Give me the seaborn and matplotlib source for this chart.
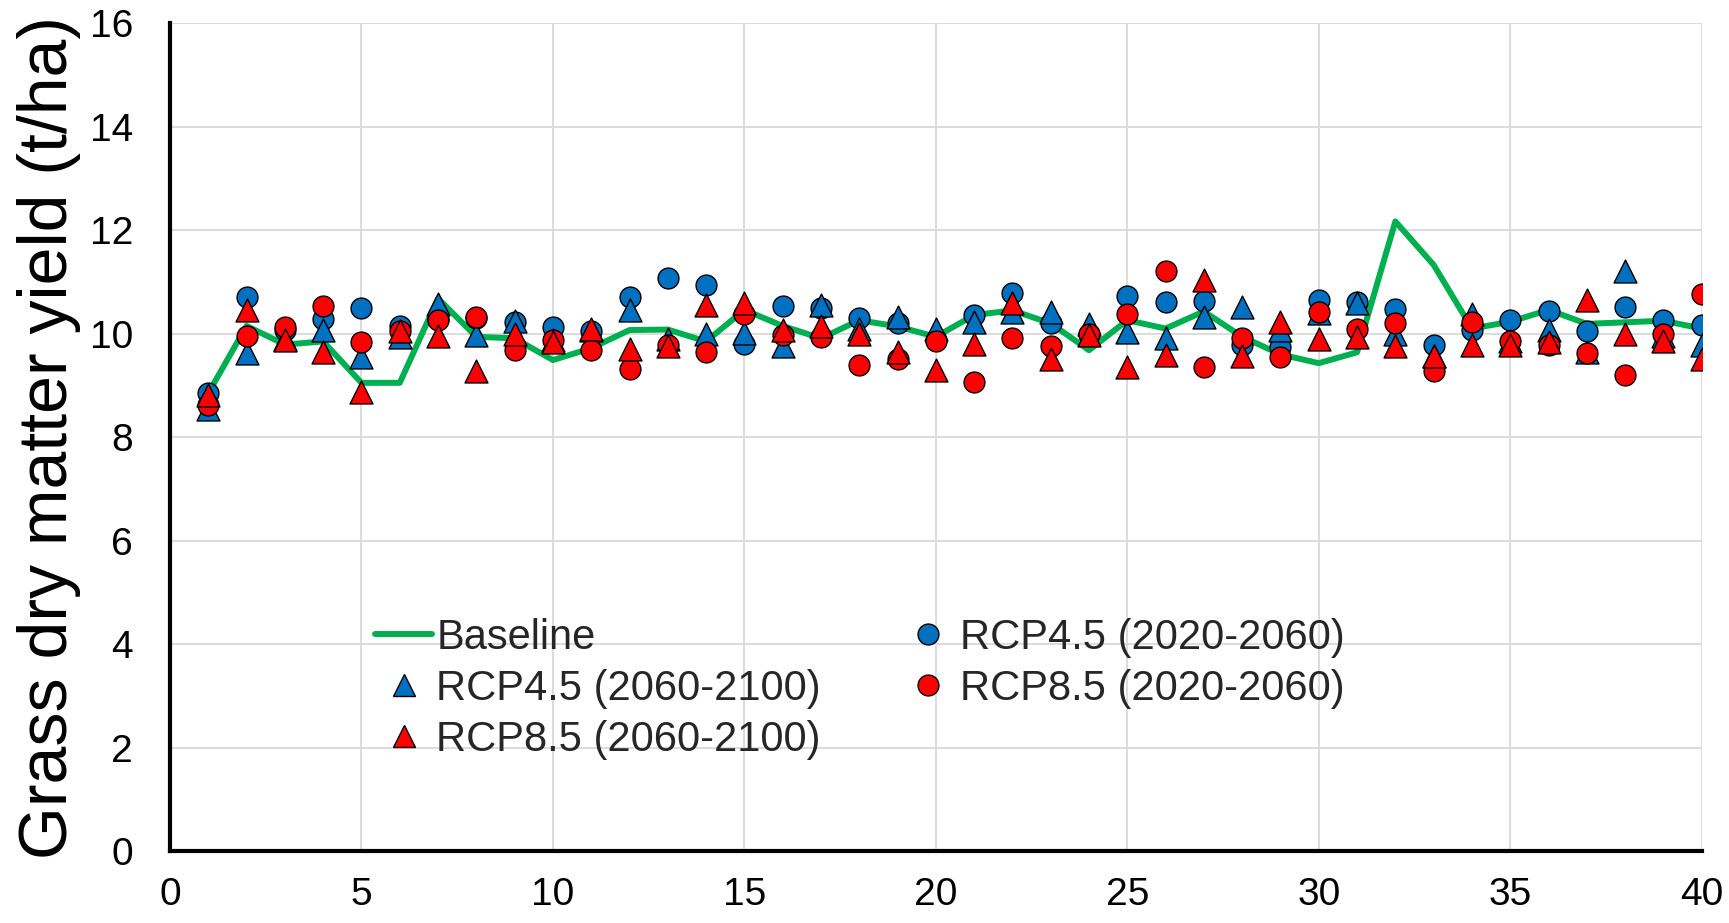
import matplotlib
matplotlib.use("Agg")
import matplotlib.pyplot as plt
import seaborn as sns
from matplotlib.lines import Line2D

years = list(range(1, 41))

baseline = [8.85, 10.15, 9.79, 9.85, 9.05, 9.05, 10.68, 9.94, 9.91, 9.49,
            9.72, 10.07, 10.08, 9.85, 10.46, 10.15, 9.91, 10.26, 10.14, 9.94,
            10.36, 10.45, 10.20, 9.68, 10.26, 10.10, 10.43, 9.94, 9.60, 9.43,
            9.64, 12.17, 11.33, 10.10, 10.23, 10.46, 10.19, 10.22, 10.25, 10.10]

rcp45_2020 = [8.85, 10.70, 10.07, 10.28, 10.50, 10.14, 10.28, 10.30, 10.22, 10.12,
              10.05, 10.70, 11.07, 10.94, 9.81, 10.54, 10.49, 10.30, 10.20, 9.87,
              10.37, 10.78, 10.20, 10.00, 10.73, 10.62, 10.64, 9.78, 9.75, 10.65,
              10.62, 10.48, 9.78, 10.07, 10.27, 10.43, 10.05, 10.52, 10.27, 10.17]

rcp45_2060 = [8.55, 9.62, 9.90, 10.08, 9.55, 9.94, 10.58, 9.98, 10.24, 9.88,
              10.08, 10.45, 9.90, 10.00, 10.02, 9.77, 10.55, 10.10, 10.33, 10.10,
              10.22, 10.42, 10.42, 10.18, 10.03, 9.91, 10.33, 10.52, 10.08, 10.40,
              10.59, 10.00, 9.57, 10.38, 9.85, 10.08, 9.65, 11.22, 9.95, 9.79]

rcp85_2020 = [8.62, 9.95, 10.12, 10.54, 9.84, 10.06, 10.26, 10.32, 9.68, 9.88,
              9.68, 9.32, 9.78, 9.64, 10.39, 9.97, 9.94, 9.39, 9.52, 9.85,
              9.07, 9.91, 9.77, 10.00, 10.38, 11.22, 9.36, 9.91, 9.55, 10.41,
              10.09, 10.20, 9.27, 10.22, 9.86, 9.78, 9.62, 9.20, 9.99, 10.77]

rcp85_2060 = [8.81, 10.46, 9.88, 9.64, 8.87, 10.06, 9.96, 9.28, 10.00, 9.83,
              10.10, 9.71, 9.77, 10.55, 10.60, 10.08, 10.14, 10.00, 9.64, 9.29,
              9.80, 10.60, 9.52, 9.97, 9.35, 9.59, 11.04, 9.57, 10.23, 9.90,
              9.93, 9.77, 9.56, 9.78, 9.79, 9.83, 10.65, 9.99, 9.86, 9.51]

labels = ["Baseline", "RCP4.5 (2020-2060)", "RCP4.5 (2060-2100)",
          "RCP8.5 (2020-2060)", "RCP8.5 (2060-2100)"]
x_ticks = [0, 5, 10, 15, 20, 25, 30, 35, 40]
y_ticks = [0, 2, 4, 6, 8, 10, 12, 14, 16]

GREEN = "#00B050"
BLUE = "#0070C0"
RED = "#FF0000"

sns.set_theme(style="white")
plt.rcParams["font.family"] = ["Liberation Sans", "DejaVu Sans"]

W, H = 1729, 923
fig = plt.figure(figsize=(W / 100, H / 100), dpi=100)
ax = fig.add_axes([170 / W, 1 - 851 / H, (1701.7 - 170) / W, (851 - 23.3) / H])

sns.lineplot(x=years, y=baseline, color=GREEN, linewidth=4.3, label=labels[0],
             ax=ax, zorder=2, legend=False)
circ_s = 15 ** 2
tri_s = 16.5 ** 2
sns.scatterplot(x=years, y=rcp45_2020, marker="o", s=circ_s, color=BLUE,
                edgecolor="black", linewidth=1.0, label=labels[1], ax=ax, zorder=3, legend=False)
sns.scatterplot(x=years, y=rcp45_2060, marker="^", s=tri_s, color=BLUE,
                edgecolor="black", linewidth=1.0, label=labels[2], ax=ax, zorder=3, legend=False)
sns.scatterplot(x=years, y=rcp85_2020, marker="o", s=circ_s, color=RED,
                edgecolor="black", linewidth=1.0, label=labels[3], ax=ax, zorder=3, legend=False)
sns.scatterplot(x=years, y=rcp85_2060, marker="^", s=tri_s, color=RED,
                edgecolor="black", linewidth=1.0, label=labels[4], ax=ax, zorder=3, legend=False)

ax.set_xlim(0, 40)
ax.set_ylim(0, 16)
ax.set_xticks(x_ticks)
ax.set_yticks(y_ticks)
ax.set_xticklabels([str(v) for v in x_ticks])
ax.set_yticklabels([str(v) for v in y_ticks])
ax.set_axisbelow(True)
ax.grid(True, color="#D9D9D9", linewidth=1.3)

for side in ["top", "right"]:
    ax.spines[side].set_visible(False)
for side in ["left", "bottom"]:
    ax.spines[side].set_color("black")
    ax.spines[side].set_linewidth(3.0)

ax.tick_params(axis="both", which="major", direction="out", length=8.5, width=3.0,
               color="black", labelsize=28, labelcolor="black")
ax.tick_params(axis="y", pad=18)
ax.tick_params(axis="x", pad=10)

ax.set_xlabel("")
ax.set_ylabel("Grass dry matter yield (t/ha)", fontsize=49, color="black")
ax.yaxis.set_label_coords(-0.058, 0.5)

# legend in Excel order (row-major in two columns)
h_base = Line2D([], [], color=GREEN, linewidth=4.3)
h45c = Line2D([], [], linestyle="none", marker="o", markersize=15, markerfacecolor=BLUE,
              markeredgecolor="black", markeredgewidth=1.0)
h45t = Line2D([], [], linestyle="none", marker="^", markersize=16.5, markerfacecolor=BLUE,
              markeredgecolor="black", markeredgewidth=1.0)
h85c = Line2D([], [], linestyle="none", marker="o", markersize=15, markerfacecolor=RED,
              markeredgecolor="black", markeredgewidth=1.0)
h85t = Line2D([], [], linestyle="none", marker="^", markersize=16.5, markerfacecolor=RED,
              markeredgecolor="black", markeredgewidth=1.0)
handles = [h_base, h45t, h85t, h45c, h85c]
leg_labels = [labels[0], labels[2], labels[4], labels[1], labels[3]]
leg = ax.legend(handles, leg_labels, ncol=2, loc="upper left",
                bbox_to_anchor=(375 / W, 1 - 618 / H), bbox_transform=fig.transFigure,
                frameon=False, fontsize=30, handlelength=1.37, handletextpad=0.1,
                columnspacing=1.88, labelspacing=0.26, borderpad=0, borderaxespad=0)

fig.savefig("out.png", dpi=100)
